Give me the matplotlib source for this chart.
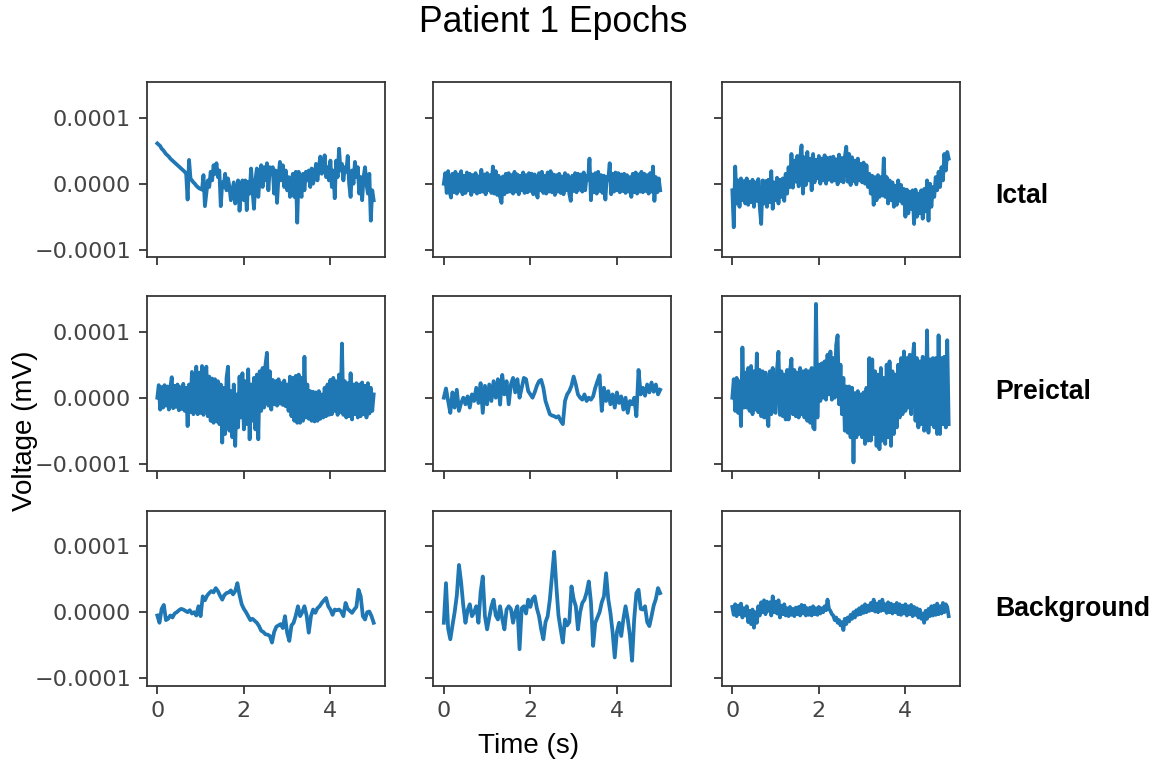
import numpy as np
import matplotlib
matplotlib.use("Agg")
import matplotlib.pyplot as plt
from matplotlib.ticker import FuncFormatter

# ---------------- data (voltage values in units of 1e-5 mV) ----------------
row_labels = ["Ictal", "Preictal", "Background"]
x_ticks = [0, 2, 4]
y_ticks = [-0.0001, 0.0, 0.0001]
duration_s = 5.0
value_unit = 1e-5

ictal_1 = [6.1, 5.9, 5.7, 5.3, 5.1, 4.8, 4.5, 4.3, 4.1, 3.8,
           3.6, 3.4, 3.2, 3.0, 2.8, 2.6, 2.4, 2.2, 2.0, 1.8,
           1.5, -2.4, 3.6, 0.8, 0.5, 0.2, 0.0, -0.3, -0.5, -0.7,
           -0.8, -0.9, 1.3, -3.4, -1.5, 0.5, -0.5, 1.8, 0.5, 2.8,
           1.5, 3.1, 1.0, 2.0, -3.4, 0.2, -0.5, 1.5, -1.0, 0.8,
           -0.5, -2.5, -1.2, 0.2, -3.0, -1.5, 0.5, -4.1, -1.0, 0.5,
           -2.5, 0.5, -4.0, 0.3, -1.5, 2.3, -1.0, -3.8, 0.5, 2.3,
           -2.0, 1.0, 2.8, -0.5, 2.5, 0.5, 3.1, -1.0, 2.5, 1.5,
           2.5, -1.5, 2.0, -2.9, 1.0, 3.3, 0.5, 2.8, -0.5, 2.0,
           -1.0, 1.0, -2.0, 0.5, 1.5, -2.0, 1.8, -5.9, 1.8, -1.0,
           -2.0, 1.5, -1.0, 1.8, 0.5, 2.0, -0.5, 2.3, 0.0, 1.0,
           3.0, 0.5, 2.5, 4.1, 1.5, 2.0, 4.3, 1.0, 2.5, 0.5,
           3.5, -0.5, 2.0, -2.2, 3.5, 1.0, 5.3, 2.0, 3.0, 0.5,
           2.5, 1.8, 4.2, 0.0, -2.0, 2.0, 0.0, 3.3, 1.0, 2.5,
           -1.5, 1.0, -2.5, 1.0, 2.5, 0.0, -1.5, 1.5, -5.6, -1.0, -2.5]

ictal_2 = [0.0, 1.6, -1.4, 1.9, -1.2, -2.1, 1.5, -1.3, 1.8, -1.5,
           1.4, -1.1, 1.9, -1.6, 1.2, -1.4, 1.7, -1.0, 1.5, -1.7,
           1.3, -1.2, 1.6, -1.5, 1.1, -1.3, 2.1, -1.2, 1.4, -1.6,
           1.6, -1.0, 1.3, -1.4, 2.6, -1.5, 1.9, -1.7, 1.2, -2.0,
           -2.9, 1.1, -1.6, 1.5, -1.3, 1.6, -1.2, 1.3, -1.5, 1.8,
           -1.2, 1.4, -1.6, 1.2, -1.0, 1.7, -1.4, 1.3, -1.3, 1.6,
           -1.1, 1.5, -1.6, 1.4, -1.2, -2.1, 1.6, -1.0, 1.8, -1.4,
           1.2, -1.5, 1.7, -1.2, 1.9, -1.3, 1.4, -1.7, 1.3, -1.2,
           1.5, -1.4, 1.1, -1.6, 1.6, -1.0, 1.3, -1.5, -2.6, 1.2,
           -1.1, 1.6, -1.3, 1.5, -0.9, 1.4, -1.2, 1.7, -1.0, 1.2,
           0.6, 3.8, -2.5, 1.4, -1.3, 1.6, -1.5, 1.8, -1.1, 1.3,
           -1.4, 1.2, -2.4, 1.0, 0.6, 3.1, -1.6, 1.5, -1.2, 1.7,
           -1.0, 1.6, -1.3, 1.4, -1.1, 1.5, -1.4, 1.3, -1.2, 1.0,
           -2.0, 1.5, -1.3, 1.7, -1.5, 1.4, -1.2, 1.8, -1.3, 1.5,
           -1.1, 1.3, -1.5, 1.6, -1.2, 2.6, -2.6, 1.0, -1.3, 0.8, -1.0]

ictal_3 = [-1.0, -6.6, 2.6, -3.0, 0.5, -3.5, 0.8, -2.5, 0.4, -3.0,
           0.8, -3.2, 0.3, -2.8, 0.6, -3.5, 0.2, -2.6, 0.7, -3.4,
           -6.1, 0.5, -3.0, 0.4, -3.5, 0.6, -2.8, 1.9, -3.8, 0.2,
           -2.5, 0.9, -3.0, 0.6, -2.0, 0.8, -2.6, 1.5, -1.5, 2.5,
           -0.5, 4.5, -0.6, 3.5, 0.3, 4.2, -0.4, 3.8, 5.8, -1.5,
           4.0, -0.2, 4.8, 0.5, 3.8, -1.0, 4.5, 0.2, 3.6, 0.8,
           4.2, 0.0, 3.8, 0.5, 4.3, 0.0, 3.9, 0.6, 4.0, 0.3,
           4.1, 0.5, 3.7, -0.1, 4.4, 0.4, 3.9, 0.2, 4.0, 5.6,
           0.3, 4.5, -0.2, 4.0, 0.4, 3.5, -0.1, 3.8, 0.5, 3.0,
           0.2, 3.2, 0.0, 2.8, -0.5, 1.5, -1.5, 1.2, -3.2, 1.0,
           -2.5, 1.3, -2.0, 1.0, -1.8, 3.85, -2.0, 1.0, -3.0, 0.5,
           -2.5, 0.2, -3.5, -0.3, -3.2, 0.5, -2.6, -0.2, -3.0, -0.8,
           -5.0, -0.9, -4.5, -1.2, -3.8, -1.0, -6.1, -0.9, -5.0, -1.5,
           -4.5, -1.0, -5.3, -0.8, -4.2, 0.5, -5.6, 0.0, -3.5, -0.5,
           -2.0, 1.0, -1.0, 1.8, -0.5, 2.5, 0.5, 4.5, 2.0, 4.8, 3.8]

preictal_1 = [0.0, 1.9, -1.8, 1.6, -1.5, 1.9, -1.2, 1.7, -1.8, 1.5,
              3.1, -1.6, 1.8, -1.4, 2.0, -1.9, 1.6, -1.7, 2.1, -2.0,
              1.5, -4.3, 2.0, -2.2, 3.9, -2.5, -1.8, 4.7, -2.5, 3.8,
              -2.3, 4.8, -2.6, 3.5, 4.7, -2.8, 3.2, -3.5, 2.9, -3.8,
              2.8, -3.6, 2.5, -4.0, 2.0, -6.8, 1.5, -5.5, 3.0, 4.7,
              -5.0, 1.0, -6.0, 2.0, -7.3, 0.5, -4.5, 3.2, -3.0, 3.7,
              -4.8, 2.5, -4.0, 4.3, -6.3, 2.0, -3.5, 3.0, -4.8, 3.5,
              -6.3, 4.0, -2.0, 4.5, -1.5, 5.0, 6.8, -1.2, 4.0, -1.8,
              2.7, -1.0, 2.5, -1.2, 2.8, -0.9, 2.2, -1.1, 2.6, -1.3,
              2.0, -2.0, 3.2, -2.8, 3.0, -3.5, 3.3, -3.8, 3.5, -3.8,
              3.0, -3.5, 6.2, -3.0, 2.0, -3.2, 1.0, -3.5, 0.9, -3.6,
              0.8, -3.5, 1.0, -3.2, 0.5, -3.0, 1.5, -2.8, 2.0, -2.6,
              2.7, -2.5, 3.0, -2.0, 2.5, -2.6, 3.5, -2.2, 8.2, -2.6,
              2.5, -3.0, 2.2, -2.8, 3.7, -3.3, 2.0, -2.5, 2.2, -3.0,
              2.0, -2.8, 2.3, -2.5, 1.8, -3.0, 2.2, -2.4, 1.5, -2.0, 0.5]

preictal_2 = [0.0, 1.4, -0.5, -2.3, 0.8, -1.5, 1.2, -2.0, -0.8, 0.0,
              -1.0, 0.2, -1.5, 0.5, -0.5, 1.5, -0.8, 2.2, -2.3, 1.8,
              -1.0, 2.0, -0.5, 2.5, 0.0, 2.8, -1.05, 3.45, 0.5, 2.5,
              -1.0, 2.0, 3.0, 0.8, 2.8, 0.0, 1.5, 3.0, 2.8, 1.0,
              0.5, 0.0, 0.8, 1.8, 2.5, 2.7, 1.5, -0.5, -1.5, -2.5,
              -2.7, -2.8, -3.0, -2.8, -3.5, -4.0, -0.5, 0.5, 1.0, 1.8,
              3.2, 2.0, 0.5, 0.0, -0.3, 0.5, -0.5, 0.0, -0.3, 0.2,
              1.5, 2.5, 3.4, -2.0, 1.5, -0.5, 1.0, -1.0, 0.5, -1.5,
              0.8, -0.8, 0.2, -1.8, 0.0, -2.3, -0.5, -1.0, 0.0, -2.8,
              4.2, 0.5, 1.5, 0.3, 2.0, 0.8, 2.3, 0.9, 2.0, 0.5, 1.2]

preictal_3 = [0.0, 2.8, -2.0, 3.0, -2.3, 2.5, -4.3, 7.6, -1.5, 3.8,
              -1.5, 4.5, -2.0, 4.8, -2.5, 4.0, -1.8, 6.7, -2.2, 4.2,
              -2.8, 4.0, -3.0, 3.8, -2.5, -4.3, 4.0, -2.5, 4.5, -2.0,
              -2.3, 4.3, 6.95, -2.6, 4.0, -2.8, 3.5, -3.3, 4.2, -3.3,
              4.0, 5.9, -2.5, 4.2, -2.8, 3.8, -3.0, 4.5, -2.5, 4.0,
              -3.0, 4.2, -3.5, 4.0, -3.8, 4.5, -4.5, -4.8, 14.2, -3.0,
              5.0, -0.5, 5.2, 0.0, 5.5, -0.3, 6.5, 0.5, 7.0, -0.3,
              6.0, 0.0, 8.0, 9.45, -1.0, 5.0, -2.5, 3.0, -5.0, 1.7,
              -5.3, 1.7, -6.0, 1.5, -9.8, 0.7, -6.0, 1.0, -5.5, 0.5,
              -6.0, 0.8, -7.0, 1.5, -6.5, 6.0, -6.5, 5.8, -5.5, 4.0,
              -7.3, 3.5, -7.8, 4.5, -6.5, 3.0, -7.0, 5.0, -6.0, 5.5,
              -7.3, 4.0, -5.5, 3.5, -4.5, 5.0, -3.0, 6.0, -2.5, 7.0,
              -2.0, 6.0, -1.5, 6.5, -2.5, 5.8, 8.2, -3.5, 6.0, -4.5,
              5.5, -4.0, 6.2, -5.0, -4.0, 10.2, -5.3, 5.8, -4.0, 6.0,
              -4.5, 6.0, -5.5, 9.45, -5.5, 6.0, -4.0, 6.2, -4.5, 8.7, -4.0]

background_1 = [-0.5, -1.6, 0.5, 1.1, -1.2, -1.0, -0.5, -0.8, -0.2, 0.0,
                0.3, 0.5, 0.4, 0.2, 0.0, 0.3, -0.2, 0.0, -0.5, 0.9,
                -0.6, 2.4, 1.8, 2.5, 2.9, 3.2, 3.0, 3.65, 3.2, 2.5,
                1.9, 2.6, 2.9, 3.0, 3.3, 2.7, 3.2, 4.4, 2.6, 1.2,
                0.5, 0.0, -0.6, -1.2, -1.0, -1.3, -1.6, -2.1, -2.8, -3.0,
                -3.35, -3.4, -3.6, -4.6, -3.0, -2.2, -2.0, -1.8, -2.4, -0.6,
                -3.1, -4.35, -2.0, -1.6, -0.5, 0.9, -0.6, 0.0, 0.9, -0.5,
                -3.1, -0.6, 0.4, -0.1, 0.6, 0.9, 1.4, 1.8, 2.15, 0.9,
                0.4, -0.4, 0.4, 0.3, 0.4, 0.1, -0.6, 1.4, 0.5, 0.2,
                -0.1, 0.4, 0.8, 3.4, 2.4, -0.6, -1.1, 0.0, 0.1, -0.6, -1.6]

background_2 = [-1.6, 4.4, -2.5, -4.1, -2.0, 0.0, 2.5, 7.15, 4.5, 1.0,
                -1.6, 0.3, 1.2, -0.6, 0.0, 0.9, -1.6, 3.0, 5.4, -0.6,
                -2.6, -0.8, 0.9, 1.9, -0.5, -1.1, 0.9, -1.0, -2.6, 0.4,
                0.9, 0.5, -1.6, 0.0, 0.9, -5.6, 0.6, 0.9, -0.2, 1.9,
                0.8, 2.0, 2.4, 0.6, -0.6, -2.6, -4.1, -1.5, -0.6, 1.9,
                5.5, 9.15, 4.0, -0.5, -2.6, -4.6, -1.1, -2.0, -1.5, 3.9,
                2.0, 0.9, -2.6, 0.0, 1.4, 1.9, 3.0, 4.65, 1.5, -5.1,
                -1.6, -0.8, 0.0, 1.5, 2.4, 5.9, 2.0, -0.1, -3.0, -6.85,
                -3.0, -1.6, -3.6, -1.0, 0.9, -1.0, -3.5, -7.35, -1.0, 2.9,
                3.4, 0.5, 0.4, 0.9, -1.5, -2.1, -0.6, 1.0, 2.0, 3.65, 2.9]

background_3 = [0.8, -0.4, 1.2, -0.6, 1.0, -0.3, 1.3, -0.8, 0.6, -0.5,
                0.9, -1.5, 0.2, -1.8, 0.4, -2.35, 0.0, -1.6, 0.9, -0.5,
                1.5, 0.0, 1.8, -0.3, 1.6, 0.2, 1.5, -0.5, 2.4, 0.0,
                1.6, -0.2, 1.8, -0.8, 1.0, -0.3, 1.2, -0.5, 0.6, -0.6,
                0.8, -0.4, 0.5, -0.6, 0.7, -0.3, 0.8, -0.5, 1.1, -0.2,
                1.0, -0.5, 0.6, -0.4, 0.7, -0.5, 0.9, -0.3, 0.6, -0.4,
                0.8, -0.2, 0.6, 0.0, 0.9, 0.3, 1.9, 0.5, 0.2, -0.3,
                -0.5, -1.2, -0.8, -1.6, -1.2, -2.0, -1.5, -2.7, -1.0, -1.8,
                -0.8, -1.4, -0.4, -1.0, 0.0, -0.8, 0.3, -0.4, 0.6, -0.3,
                0.9, -0.1, 1.2, 0.0, 1.0, 0.2, 1.4, 0.3, 1.9, 0.1,
                1.3, 0.0, 1.6, 0.2, 1.9, 0.3, 1.2, -0.1, 1.5, 0.0,
                1.3, -0.2, 1.1, 0.0, 1.4, -0.3, 1.2, -0.4, 1.0, -0.2,
                1.2, -0.5, 0.9, -0.3, 1.1, -0.6, 0.8, -0.4, 0.6, -0.8,
                0.4, -1.0, -0.2, -1.6, 0.2, -1.0, 0.5, -0.6, 0.9, -0.5,
                1.0, -0.4, 1.3, -0.3, 0.9, -0.2, 1.4, 0.0, 1.2, 0.8, -0.6]

epochs = [[ictal_1, ictal_2, ictal_3],
          [preictal_1, preictal_2, preictal_3],
          [background_1, background_2, background_3]]

# ---------------- figure ----------------
W, H = 1154, 761
DPI = 160
fig = plt.figure(figsize=(W / DPI, H / DPI), dpi=DPI)

col_left = [146.5, 433.0, 721.5]
col_width = 238.0
row_top = [82.0, 296.0, 510.5]
row_height = 175.0
label_y = [196, 392, 609]

line_color = "#1f77b4"
axis_color = "#333333"

def yfmt(v, pos):
    if abs(v) < 1e-12:
        return "0.0000"
    s = f"{v:.4f}"
    return s.replace("-", "\u2212")

for r in range(3):
    for c in range(3):
        left = col_left[c] / W
        bottom = 1 - (row_top[r] + row_height) / H
        ax = fig.add_axes([left, bottom, col_width / W, row_height / H])
        vals = np.asarray(epochs[r][c], dtype=float) * value_unit
        t = np.linspace(0, duration_s, len(vals))
        ax.plot(t, vals, color=line_color, lw=1.7)
        ax.set_xlim(-0.25, 5.25)
        ax.set_ylim(-1.11e-4, 1.54e-4)
        ax.set_xticks(x_ticks)
        ax.set_yticks(y_ticks)
        ax.yaxis.set_major_formatter(FuncFormatter(yfmt))
        ax.tick_params(labelsize=10, colors=axis_color, labelcolor="#444444")
        for sp in ax.spines.values():
            sp.set_color(axis_color)
        if c > 0:
            ax.tick_params(labelleft=False)
        if r < 2:
            ax.tick_params(labelbottom=False)
        if c == 2:
            fig.text(995 / W, 1 - label_y[r] / H, row_labels[r],
                     fontsize=12, fontweight="bold", family="Liberation Sans",
                     ha="left", va="center")

fig.text(553 / W, 1 - 32 / H, "Patient 1 Epochs", fontsize=16,
         family="Liberation Sans", ha="center", va="baseline")
fig.text(529 / W, 1 - 753 / H, "Time (s)", fontsize=12.5,
         family="Liberation Sans", ha="center", va="baseline")
fig.text(25 / W, 1 - 431 / H, "Voltage (mV)", fontsize=12.5, rotation=90,
         family="Liberation Sans", ha="center", va="center")

fig.savefig("out.png", dpi=DPI)
